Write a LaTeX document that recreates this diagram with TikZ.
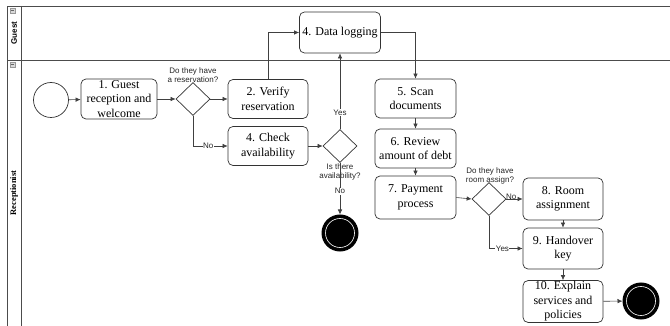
\documentclass[tikz,border=0pt]{standalone}
\usepackage{fontspec}
\setmainfont{Liberation Serif}
\newfontfamily\labfont{Liberation Sans}
\usetikzlibrary{shapes.geometric,arrows.meta}
\definecolor{linec}{HTML}{333333}
\definecolor{edgec}{HTML}{404040}
\tikzset{
  task/.style={draw=linec, rounded corners=5pt, line width=0.7pt, align=center, inner sep=1pt,
    font=\fontsize{12}{14.5}\selectfont},
  gate/.style={draw=linec, diamond, line width=0.7pt, inner sep=0pt, minimum width=34pt, minimum height=33pt},
  startev/.style={draw=linec, circle, line width=0.7pt, inner sep=0pt, minimum size=35pt},
  endev/.style={circle, fill=black, draw=black, line width=1pt, inner sep=0pt, minimum size=36pt},
  flow/.style={draw=edgec, line width=0.6pt, -{Latex[length=5pt,width=4.5pt]}},
  lbl/.style={font=\labfont\fontsize{8}{9.5}\selectfont, align=center, text=black!85, inner sep=1pt},
  lblw/.style={lbl, fill=white, inner sep=0.5pt},
  pool/.style={draw=black!70, line width=0.8pt},
  icon/.style={draw=black!40, fill=black!15, line width=0.4pt}
}
\begin{document}
\begin{tikzpicture}[x=1pt,y=-1pt]
\useasboundingbox (0,0) rectangle (670,326);
% pool / lanes
\draw[pool] (670,6) -- (7,6) -- (7,326);
\draw[pool] (21,6) -- (21,326);
\draw[pool] (7,60) -- (670,60);
\draw[icon] (10,8) rectangle (15,13);
\draw[black!60,line width=0.4pt] (11,10.5) -- (14,10.5);
\draw[icon] (10,62) rectangle (15,67);
\draw[black!60,line width=0.4pt] (11,64.5) -- (14,64.5);
\node[rotate=90, font=\labfont\bfseries\fontsize{8}{9}\selectfont] (guestlbl) at (14,33) {Guest};
\node[rotate=90, font=\bfseries\fontsize{8.5}{9}\selectfont] (reclbl) at (14,193) {Receptionist};

% nodes
\node[startev] (start) at (51,100) {};
\node[task, minimum width=76pt, minimum height=40pt] (t1) at (119,99) {1. Guest\\reception and\\welcome};
\node[gate] (g1) at (193,99) {};
\node[lbl] (g1l) at (193,75) {Do they have\\a reservation?};
\node[task, minimum width=80pt, minimum height=39pt] (t2) at (268,99) {2. Verify\\reservation};
\node[task, minimum width=80pt, minimum height=39pt] (t4) at (268,146) {4. Check\\availability};
\node[task, minimum width=81pt, minimum height=41pt] (dl) at (340,32.5) {4. Data logging};
\node[gate] (g2) at (340,146) {};
\node[lbl] (g2l) at (340,172) {Is there\\availability?};
\node[endev] (e1) at (340,233) {};
\draw[white, line width=0.6pt] (e1) circle (14.5pt);
\node[task, minimum width=81pt, minimum height=39pt] (t5) at (415.5,98.5) {5. Scan\\documents};
\node[task, minimum width=81pt, minimum height=39pt] (t6) at (415.5,148.5) {6. Review\\amount of debt};
\node[task, minimum width=81pt, minimum height=43pt] (t7) at (415.5,197.5) {7. Payment\\process};
\node[gate] (g3) at (489,199) {};
\node[lbl] (g3l) at (490,176) {Do they have\\room assign?};
\node[task, minimum width=80pt, minimum height=42pt] (t8) at (563,199) {8. Room\\assignment};
\node[task, minimum width=80pt, minimum height=41pt] (t9) at (563,248.5) {9. Handover\\key};
\node[task, minimum width=80pt, minimum height=41pt] (t10) at (563,301.5) {10. Explain\\services and\\policies};
\node[endev] (e2) at (641,301) {};
\draw[white, line width=0.6pt] (e2) circle (14.5pt);

% flows
\draw[flow] (start) -- (t1);
\draw[flow] (t1) -- (g1);
\draw[flow] (g1) -- (t2);
\draw[flow] (g1.south) |- (t4.west) node[lblw, pos=0.72] (no1) {No};
\draw[flow] (t2.north) |- (dl.west);
\draw[flow] (t4) -- (g2);
\draw[flow] (g2.north) -- (dl.south) node[lblw, pos=0.22] (yes1) {Yes};
\draw[flow] (g2.south) -- (e1.north) node[lblw, pos=0.55] (no2) {No};
\draw[flow] (dl.east) -| (t5.north);
\draw[flow] (t5) -- (t6);
\draw[flow] (t6) -- (t7);
\draw[flow] (t7.east) -- (g3.west);
\draw[flow] (g3.east) -- (t8.west) node[lbl, pos=0.3, above, yshift=-2pt] (no3) {No};
\draw[flow] (g3.south) |- (t9.west) node[lblw, pos=0.7] (yes2) {Yes};
\draw[flow] (t8) -- (t9);
\draw[flow] (t9) -- (t10);
\draw[flow] (t10) -- (e2);
\end{tikzpicture}
\end{document}
